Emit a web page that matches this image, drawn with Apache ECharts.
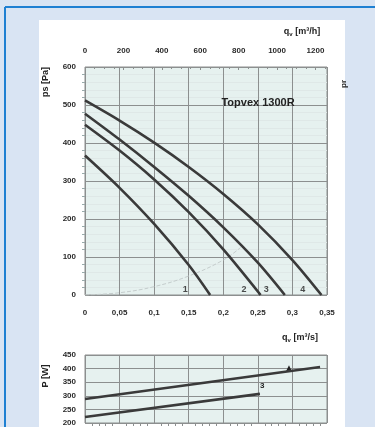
<!DOCTYPE html>
<html><head><meta charset="utf-8">
<script src="https://cdn.jsdelivr.net/npm/echarts@6/dist/echarts.min.js"></script>
<style>html,body{margin:0;padding:0;background:#d9e4f3;}#c{width:375px;height:427px;}</style>
</head><body><div id="c"></div>
<script>
// ---- data ----
const flowTicksM3s = ['0','0,05','0,1','0,15','0,2','0,25','0,3','0,35'];
const flowTicksM3h = ['0','200','400','600','800','1000','1200'];
const curveNames = ['1','2','3','4'];
const flow1 = [0, 0.05, 0.1, 0.15, 0.181];
const ps1   = [367, 282, 187, 79, 0];
const flow2 = [0, 0.05, 0.1, 0.15, 0.2, 0.254];
const ps2   = [448, 380, 304, 218, 120, 0];
const flow3 = [0, 0.05, 0.1, 0.15, 0.2, 0.25, 0.289];
const ps3   = [477, 409, 337, 261, 178, 85, 0];
const flow4 = [0, 0.05, 0.1, 0.15, 0.2, 0.25, 0.3, 0.342];
const ps4   = [512, 459, 401, 337, 266, 186, 92, 0];
const sysFlow = [0, 0.05, 0.1, 0.15, 0.2, 0.225];
const sysPs   = [0, 6, 22, 50, 92, 125];
const curveLabelFlow = [0.145, 0.23, 0.262, 0.315];
const curveLabelPs = [15, 15, 15, 15];
const powFlow3 = [0, 0.253];
const pow3     = [222, 307];
const powFlow4 = [0, 0.34];
const pow4     = [288, 406];

const pairs = (xs, ys) => xs.map((x, i) => [x, ys[i]]);
const txt = '#2b2b2b';
const lbl = {color: txt, fontSize: 8, fontWeight: 'bold', fontFamily: 'Liberation Sans'};
const major = {show: true, lineStyle: {color: '#8c8f8f', width: 1}};
const curveStyle = {color: '#3a3a3a', width: 2.6};

const chart = echarts.init(document.getElementById('c'), null, {renderer: 'canvas'});
const topSeries = [[flow1, ps1], [flow2, ps2], [flow3, ps3], [flow4, ps4]].map((c, i) => ({
  type: 'line', name: curveNames[i], xAxisIndex: 0, yAxisIndex: 0,
  data: pairs(c[0], c[1]), smooth: 0.3, symbol: 'none',
  lineStyle: curveStyle, z: 5
}));
const qRich = {q: {fill: '#222', font: 'bold 9px Liberation Sans'}, v: {fill: '#222', font: 'bold 6px Liberation Sans', padding: [5, 0, 0, 0]}};
chart.setOption({
  backgroundColor: '#d9e4f3',
  animation: false,
  graphic: [
    {type: 'rect', shape: {x: 39, y: 20, width: 306, height: 420}, style: {fill: '#ffffff'}, z: -100},
    {type: 'line', shape: {x1: 5, y1: 7, x2: 375, y2: 7}, style: {stroke: '#1f80d2', lineWidth: 2}, z: -90},
    {type: 'line', shape: {x1: 5, y1: 7, x2: 5, y2: 427}, style: {stroke: '#1f80d2', lineWidth: 2}, z: -90},
    {type: 'text', x: 258, y: 103, style: {text: 'Topvex 1300R', fill: '#222', font: 'bold 11px Liberation Sans', align: 'center', verticalAlign: 'middle'}, z: 10},
    {type: 'text', x: 302, y: 32, style: {text: '{q|q}{v|v}{q| [m³/h]}', rich: qRich, align: 'center', verticalAlign: 'middle'}, z: 10},
    {type: 'text', x: 300, y: 338, style: {text: '{q|q}{v|v}{q| [m³/s]}', rich: qRich, align: 'center', verticalAlign: 'middle'}, z: 10},
    {type: 'text', x: 46, y: 82, rotation: Math.PI / 2, style: {text: 'ps [Pa]', fill: '#222', font: 'bold 9px Liberation Sans', align: 'center', verticalAlign: 'middle'}, z: 10},
    {type: 'text', x: 46, y: 376, rotation: Math.PI / 2, style: {text: 'P [W]', fill: '#222', font: 'bold 9px Liberation Sans', align: 'center', verticalAlign: 'middle'}, z: 10},
    {type: 'text', x: 344, y: 84, rotation: Math.PI / 2, style: {text: 'pr', fill: '#222', font: 'bold 8px Liberation Sans', align: 'center', verticalAlign: 'middle'}, z: 10}
  ],
  grid: [
    {left: 85, right: 48, top: 67, bottom: 132, show: true, backgroundColor: '#e6f1ef', borderColor: '#8c8f8f', borderWidth: 1},
    {left: 85, right: 48, top: 355, bottom: 4, show: true, backgroundColor: '#e6f1ef', borderColor: '#8c8f8f', borderWidth: 1}
  ],
  xAxis: [
    {type: 'value', gridIndex: 0, min: 0, max: 0.35, interval: 0.05, position: 'bottom',
     axisLine: {show: false}, axisTick: {show: false},
     axisLabel: Object.assign({}, lbl, {margin: 14, formatter: (v) => flowTicksM3s[Math.round(v / 0.05)]}),
     splitLine: major},
    {type: 'value', gridIndex: 0, min: 0, max: 1260, interval: 200, position: 'top',
     axisLine: {show: false}, axisTick: {show: true, inside: true, length: 3, lineStyle: {color: '#8c8f8f'}},
     minorTick: {show: true, splitNumber: 4, length: 2, lineStyle: {color: '#8c8f8f'}},
     axisLabel: Object.assign({}, lbl, {margin: 12, formatter: (v) => flowTicksM3h[Math.round(v / 200)]}),
     splitLine: {show: false}},
    {type: 'value', gridIndex: 1, min: 0, max: 0.35, interval: 0.05,
     axisLine: {show: false}, axisTick: {show: false}, axisLabel: {show: false},
     splitLine: major, minorTick: {show: true, splitNumber: 5, inside: true, length: 3, lineStyle: {color: '#8c8f8f'}}}
  ],
  yAxis: [
    {type: 'value', gridIndex: 0, min: 0, max: 600, interval: 100,
     axisLine: {show: false}, axisTick: {show: false},
     minorTick: {show: true, splitNumber: 5, length: 3, lineStyle: {color: '#9aa'}},
     axisLabel: Object.assign({}, lbl, {margin: 9}),
     splitLine: major, minorSplitLine: {show: true, lineStyle: {color: '#dfe8e7', width: 1}}},
    {type: 'value', gridIndex: 1, min: 200, max: 450, interval: 50,
     axisLine: {show: false}, axisTick: {show: false},
     axisLabel: Object.assign({}, lbl, {margin: 9}),
     splitLine: major}
  ],
  series: topSeries.concat([
    {type: 'line', xAxisIndex: 0, yAxisIndex: 0, data: pairs(sysFlow, sysPs), smooth: 0.4, symbol: 'none',
     lineStyle: {color: '#c4cccc', width: 1, type: 'dashed'}, z: 3},
    {type: 'scatter', xAxisIndex: 0, yAxisIndex: 0, symbolSize: 0,
     data: curveLabelFlow.map((f, i) => ({value: [f, curveLabelPs[i]], name: curveNames[i]})),
     label: {show: true, formatter: '{b}', color: '#222', fontSize: 9, fontWeight: 'bold', position: 'inside'}, z: 6},
    {type: 'line', xAxisIndex: 2, yAxisIndex: 1, data: pairs(powFlow3, pow3), symbol: 'none',
     lineStyle: curveStyle, z: 5,
     endLabel: {show: true, formatter: curveNames[2], color: '#222', fontSize: 8, fontWeight: 'bold', offset: [-8, -8]}},
    {type: 'line', xAxisIndex: 2, yAxisIndex: 1, data: pairs(powFlow4, pow4), symbol: 'none',
     lineStyle: curveStyle, z: 5,
     markPoint: {symbol: 'triangle', symbolSize: 6, itemStyle: {color: '#222'}, label: {show: false},
       data: [{coord: [0.295, 401]}]}}
  ])
});
</script></body></html>
